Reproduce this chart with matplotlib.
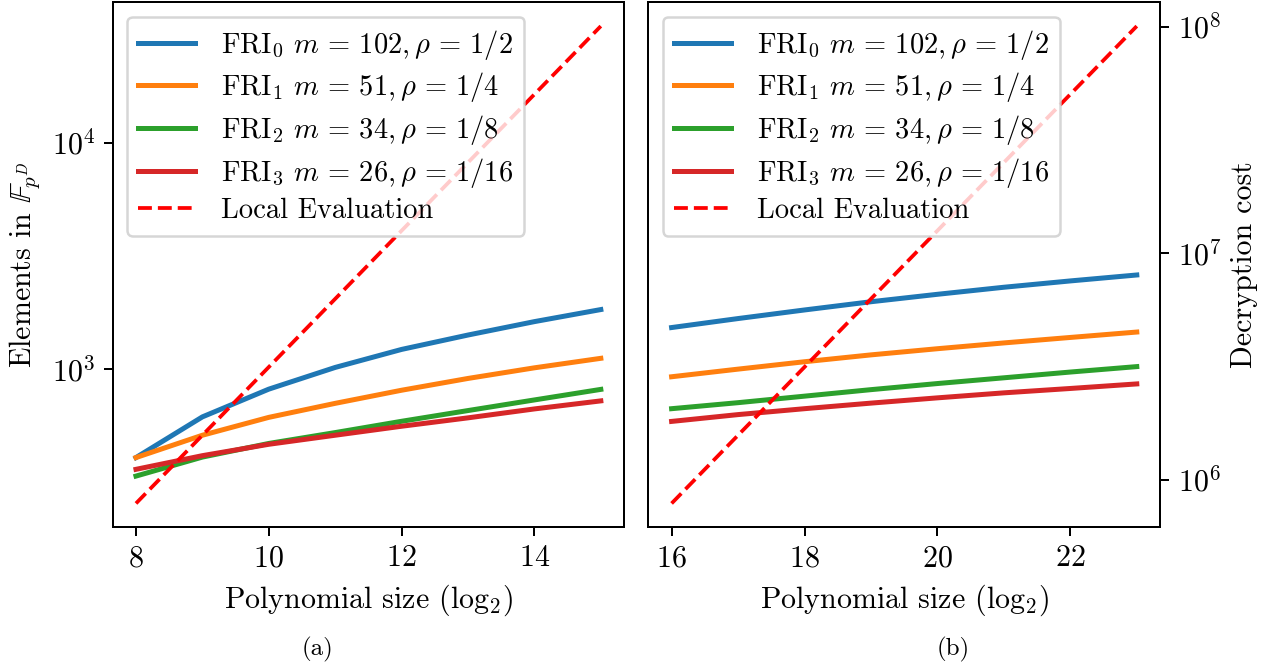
import matplotlib.pyplot as plt
import numpy as np

plt.rcParams['font.family'] = 'serif'
plt.rcParams['font.serif'] = ['cmr10']
plt.rcParams['mathtext.fontset'] = 'cm'
plt.rcParams['axes.formatter.use_mathtext'] = True
plt.rcParams['font.size'] = 12

# panel (a): elements in F_{p^D}
x_a = [8, 9, 10, 11, 12, 13, 14, 15]
fri0_a = [408, 617, 818, 1020, 1225, 1418, 1625, 1837]
fri1_a = [408, 512, 614, 708, 809, 912, 1016, 1119]
fri2_a = [338, 410, 471, 526, 590, 658, 733, 816]
fri3_a = [362, 416, 467, 512, 561, 611, 669, 726]
local_a = [256, 512, 1024, 2048, 4096, 8192, 16384, 32768]

# panel (b): decryption cost
x_b = [16, 17, 18, 19, 20, 21, 22, 23]
fri0_b = [4.70e6, 5.15e6, 5.62e6, 6.11e6, 6.59e6, 7.08e6, 7.55e6, 8.02e6]
fri1_b = [2.85e6, 3.08e6, 3.32e6, 3.56e6, 3.79e6, 4.02e6, 4.25e6, 4.49e6]
fri2_b = [2.06e6, 2.19e6, 2.34e6, 2.50e6, 2.66e6, 2.82e6, 2.99e6, 3.16e6]
fri3_b = [1.81e6, 1.94e6, 2.06e6, 2.18e6, 2.30e6, 2.42e6, 2.53e6, 2.65e6]
local_b = [786432, 1572864, 3145728, 6291456, 12582912, 25165824, 50331648, 100663296]

labels = [r'FRI$_0$ $m\,=\,102, \rho\,=\,1/2$',
          r'FRI$_1$ $m\,=\,51, \rho\,=\,1/4$',
          r'FRI$_2$ $m\,=\,34, \rho\,=\,1/8$',
          r'FRI$_3$ $m\,=\,26, \rho\,=\,1/16$']

dpi = 180
fig = plt.figure(figsize=(1271 / dpi, 663 / dpi), dpi=dpi)
ax1 = fig.add_axes([0.0887, 0.2047, 0.4023, 0.7919])
ax2 = fig.add_axes([0.5101, 0.2047, 0.4026, 0.7919])

for ax, x, series, local in [(ax1, x_a, [fri0_a, fri1_a, fri2_a, fri3_a], local_a),
                             (ax2, x_b, [fri0_b, fri1_b, fri2_b, fri3_b], local_b)]:
    for s, lab in zip(series, labels):
        ax.plot(x, s, lw=2, label=lab)
    ax.plot(x, local, 'r--', lw=1.5, label='Local Evaluation')
    ax.set_yscale('log')
    ax.minorticks_off()
    ax.set_xlabel(r'Polynomial size (log$_2$)')
    ax.legend(loc='upper left', handletextpad=0.9, labelspacing=0.3,
              fontsize=11.4)

ax1.set_xticks([8, 10, 12, 14])
ax2.set_xticks([16, 18, 20, 22])
ax1.set_ylabel(r'Elements in $\mathbb{F}_{p^D}$')
ax2.yaxis.tick_right()
ax2.yaxis.set_label_position('right')
ax2.set_ylabel('Decryption cost')

fig.text(0.25, 0.02, '(a)', ha='center', va='center', fontsize=10)
fig.text(0.75, 0.02, '(b)', ha='center', va='center', fontsize=10)

fig.savefig('out.png', dpi=dpi)
